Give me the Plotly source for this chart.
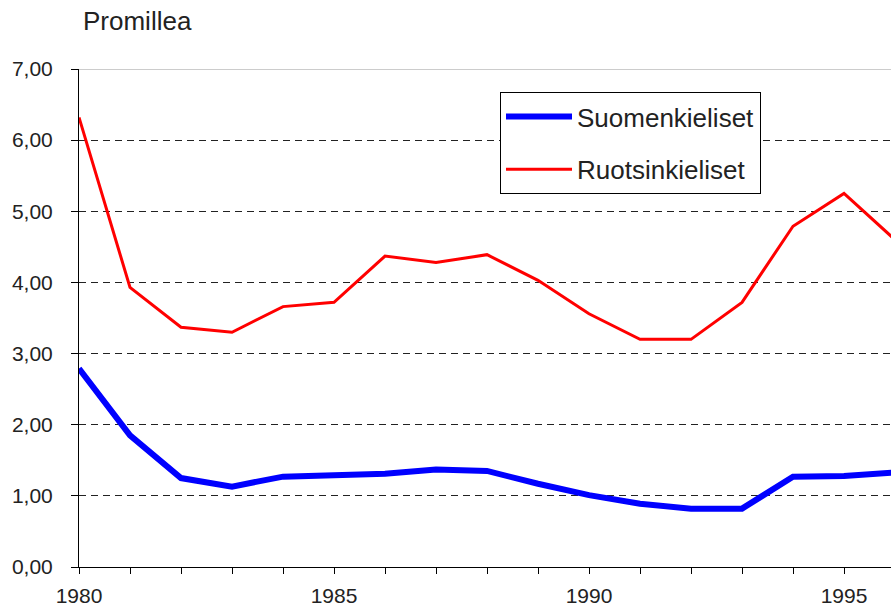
import plotly.graph_objects as go

years = list(range(1980, 1997))
suomenkieliset = [2.79, 1.85, 1.25, 1.13, 1.27, 1.29, 1.31, 1.37, 1.35, 1.17, 1.01, 0.89, 0.82, 0.82, 1.27, 1.28, 1.33]
ruotsinkieliset = [6.32, 3.93, 3.37, 3.30, 3.66, 3.72, 4.37, 4.28, 4.39, 4.03, 3.56, 3.20, 3.20, 3.72, 4.79, 5.25, 4.60]

x_tickvals = list(range(1980, 1997))
x_ticktext = ["1980", "", "", "", "", "1985", "", "", "", "", "1990", "", "", "", "", "1995", ""]
y_tickvals = [0, 1, 2, 3, 4, 5, 6, 7]

FONT = "Liberation Sans, Arial, sans-serif"

fig = go.Figure()
fig.add_trace(go.Scatter(x=years, y=suomenkieliset, mode="lines", name="Suomenkieliset",
                         line=dict(color="#0000FF", width=6), legendgroup="a"))
fig.add_trace(go.Scatter(x=years, y=ruotsinkieliset, mode="lines", name="Ruotsinkieliset",
                         line=dict(color="#FF0000", width=3), legendgroup="b"))

fig.update_layout(
    width=891, height=612,
    margin=dict(l=79, r=0, t=69, b=45, autoexpand=False),
    paper_bgcolor="white", plot_bgcolor="white",
    separators=", ",
    font=dict(family=FONT, size=21, color="#222222"),
    title=dict(text="Promillea", x=83/891, xanchor="left", xref="container",
               y=1-21/612, yanchor="middle", yref="container",
               font=dict(family=FONT, size=26, color="#222222")),
    showlegend=True,
    legend=dict(x=(500-79)/812, y=(567-92)/498, xanchor="left", yanchor="top",
                bordercolor="#000000", borderwidth=1, bgcolor="white",
                font=dict(family=FONT, size=26, color="#222222"),
                itemwidth=66,
                traceorder="grouped", tracegroupgap=16),
    xaxis=dict(range=[1980, 1980 + 812/51], tickvals=x_tickvals, ticktext=x_ticktext,
               ticks="outside", ticklen=6, tickcolor="#000000", tickwidth=1,
               showline=True, linecolor="#000000", linewidth=1, automargin=False,
               showgrid=False, zeroline=False, ticklabelstandoff=4,
               tickfont=dict(family=FONT, size=21, color="#222222")),
    yaxis=dict(range=[0, 7], tickvals=y_tickvals, tickformat=".2f",
               ticks="outside", ticklen=7, tickcolor="#000000", tickwidth=1,
               showline=True, linecolor="#000000", linewidth=1, automargin=False,
               showgrid=True, gridcolor="#222222", gridwidth=1, griddash="7px,5px",
               zeroline=False, ticklabelstandoff=14,
               tickfont=dict(family=FONT, size=21, color="#222222")),
    shapes=[dict(type="line", xref="paper", x0=0, x1=1, yref="y", y0=7, y1=7,
                 line=dict(color="#999999", width=1), layer="above")],
)

fig.write_html("out.html", config={"displayModeBar": False},
               post_script="document.body.style.margin='0';document.body.style.overflow='hidden';")
